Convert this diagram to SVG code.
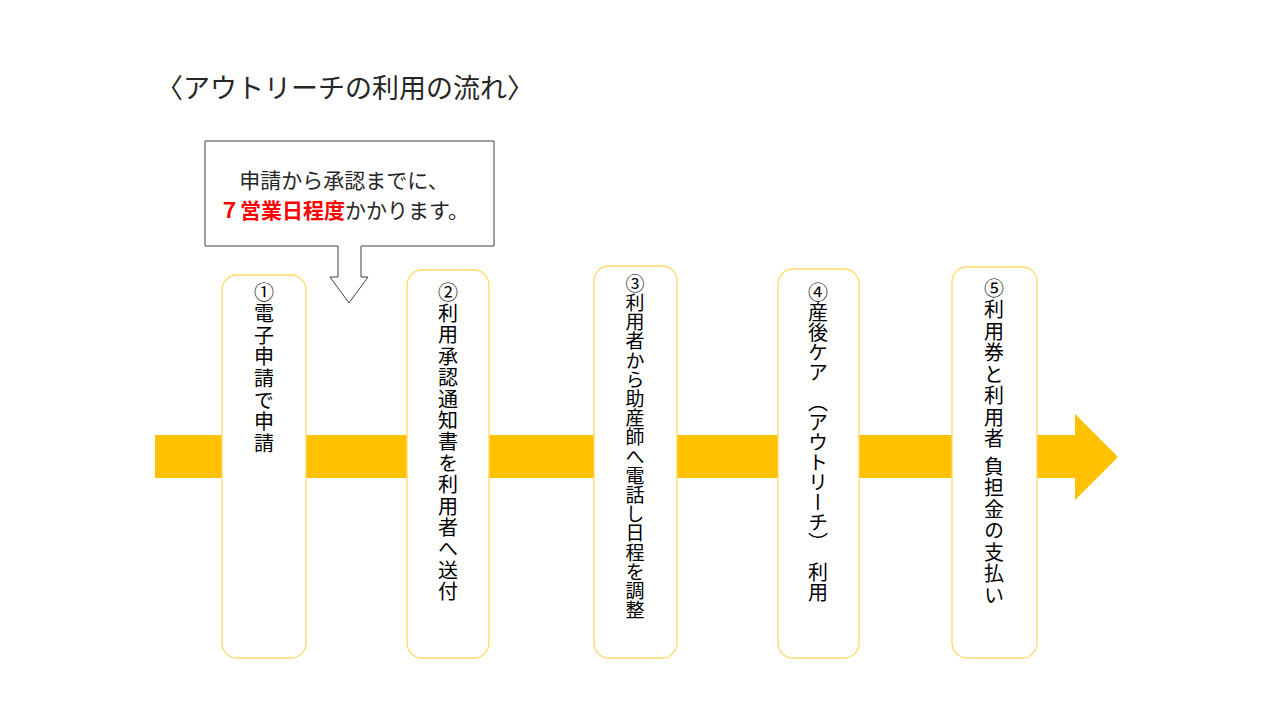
<svg xmlns="http://www.w3.org/2000/svg" width="1280" height="720" viewBox="0 0 1280 720">
<style>
.box{fill:#FFFFFF;stroke:#FFD966;stroke-width:1.3}
.vt{font-family:"Noto Sans CJK JP","Noto Sans CJK SC",sans-serif;writing-mode:vertical-rl;fill:#000000;font-size:20px}
.title{font-family:"Noto Sans CJK JP",sans-serif;font-size:27px;fill:#262626}
.call{font-family:"Noto Sans CJK JP",sans-serif;font-size:21px;fill:#262626}
</style>
<rect width="1280" height="720" fill="#FFFFFF"/>
<text id="title" class="title" x="156" y="98">〈アウトリーチの利用の流れ〉</text>
<g id="connectors">
<polygon id="flow-arrow" points="155,435 1075,435 1075,414 1118,457 1075,500 1075,478 155,478" fill="#FFC000"/>
</g>
<g id="callout">
<path d="M205,141 H494 V246 H361 V277 H368 L349,303 L330,277 H338 V246 H205 Z" fill="#FFFFFF" stroke="#404040" stroke-width="1"/>
<text class="call" x="344" y="188" text-anchor="middle">申請から承認までに、</text>
<text class="call" x="344" y="218" text-anchor="middle"><tspan fill="#FF0000" font-weight="bold">７営業日程度</tspan>かかります。</text>
</g>
<g id="step1">
<rect class="box" x="222" y="275" width="84" height="383" rx="15"/>
<text class="vt" x="264" y="282" letter-spacing="1.6">①電子申請で申請</text>
</g>
<g id="step2">
<rect class="box" x="407" y="270" width="82" height="388" rx="15"/>
<text class="vt" x="448" y="282" letter-spacing="1.4">②利用承認通知書を利用者へ送付</text>
</g>
<g id="step3">
<rect class="box" x="594" y="266" width="83" height="392" rx="15"/>
<text class="vt" x="635" y="274" style="font-size:19px" letter-spacing="0.2">③利用者から助産師へ電話し日程を調整</text>
</g>
<g id="step4">
<rect class="box" x="778" y="269" width="81" height="389" rx="15"/>
<text class="vt" x="818" y="282">④産後ケア　（アウトリーチ）　利用</text>
</g>
<g id="step5">
<rect class="box" x="952" y="267" width="85" height="391" rx="15"/>
<text class="vt" x="994" y="278" letter-spacing="1.5">⑤利用券と利用者 負担金の支払い</text>
</g>
</svg>
